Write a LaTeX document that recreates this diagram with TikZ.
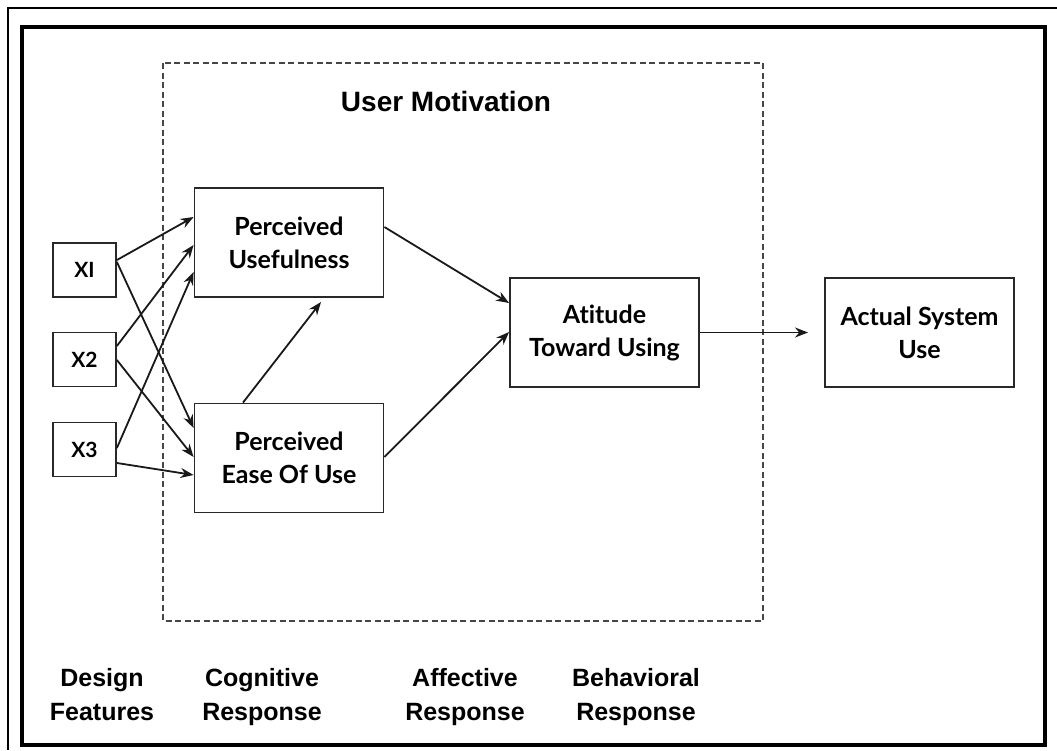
\documentclass[tikz,border=0pt]{standalone}
\usepackage{fontspec}
\setmainfont{Liberation Sans}
\newfontfamily\boxfont{Lato}[Ligatures={NoCommon}]
\usepackage{tikz}
\usetikzlibrary{positioning,arrows.meta}
\definecolor{dgray}{RGB}{40,40,40}
\definecolor{mgray}{RGB}{70,70,70}
\newcommand{\stage}[2]{#1\strut\\#2\strut}
\tikzset{
  xb/.style={draw=dgray, line width=1.8pt, minimum width=63pt, minimum height=54pt, inner sep=0pt, font=\boxfont\bfseries\fontsize{21}{22}\selectfont},
  cb/.style={draw=dgray, line width=1.8pt, minimum width=189pt, minimum height=109pt, inner sep=0pt, align=center, font=\boxfont\bfseries\fontsize{25}{33}\selectfont},
  ar/.style={-{Stealth[length=13pt,width=10pt]}, line width=1.8pt, black!90},
  lbl/.style={align=center, inner sep=0pt, font=\bfseries\fontsize{25}{34}\selectfont},
  tamdiagram/.style={x=1pt, y=-1pt}
}

\begin{document}
\begin{tikzpicture}[tamdiagram]
        \useasboundingbox (0,0) rectangle (1057,750);
        % frames
        \draw[line width=2pt] (8,750) -- (8,8) -- (1057,8);
        \draw[line width=4.5pt] (22,27) rectangle (1045,745);
        \draw[mgray, line width=1.4pt, dash pattern=on 6pt off 3.5pt] (163,63) rectangle (763,621);
        \node[font=\bfseries\fontsize{28}{32}\selectfont] (um) at (446,101) {User Motivation};
        % design features
        \node[xb] (x1) at (84.5,270) {XI};
        \node[xb] (x2) at (84.5,359.5) {X2};
        \node[xb] (x3) at (84.5,449.5) {X3};
        % constructs
        \node[cb] (pu) at (289,242.5) {Perceived\\Usefulness};
        \node[cb] (pe) at (289,458) {Perceived\\Ease Of Use};
        \node[cb] (at) at (604.5,332.5) {Atitude\\Toward Using};
        \node[cb] (as) at (919.5,332.5) {Actual System\\Use};
        \coordinate (pt) at (321,302);
        \coordinate (ae) at (808,332.5);
        % links
        \draw[ar] ([yshift=10pt]x1.east) -- ([yshift=25.5pt]pu.west);
        \draw[ar] ([yshift=8pt]x1.east) -- ([yshift=30pt]pe.west);
        \draw[ar] ([yshift=13.5pt]x2.east) -- ([yshift=-2.5pt]pu.west);
        \draw[ar] ([yshift=-0.5pt]x2.east) -- ([yshift=1pt]pe.west);
        \draw[ar] ([yshift=1.5pt]x3.east) -- ([yshift=-29.5pt]pu.west);
        \draw[ar] ([yshift=-13.5pt]x3.east) -- ([yshift=-17pt]pe.west);
        \draw[ar] ([xshift=-46pt]pe.north) -- (pt);
        \draw[ar] ([yshift=15.5pt]pu.east) -- ([yshift=29.5pt]at.west);
        \draw[ar] ([yshift=1pt]pe.east) -- ([yshift=0.5pt]at.west);
        \draw[ar] (at.east) -- (ae);
        % stages
        \node[lbl] (df) at (102,697) {\stage{Design}{Features}};
        \node[lbl] (cr) at (262,697) {\stage{Cognitive}{Response}};
        \node[lbl] (afr) at (465,697) {\stage{Affective}{Response}};
        \node[lbl] (bhr) at (636,697) {\stage{Behavioral}{Response}};
      \end{tikzpicture}
\end{document}
